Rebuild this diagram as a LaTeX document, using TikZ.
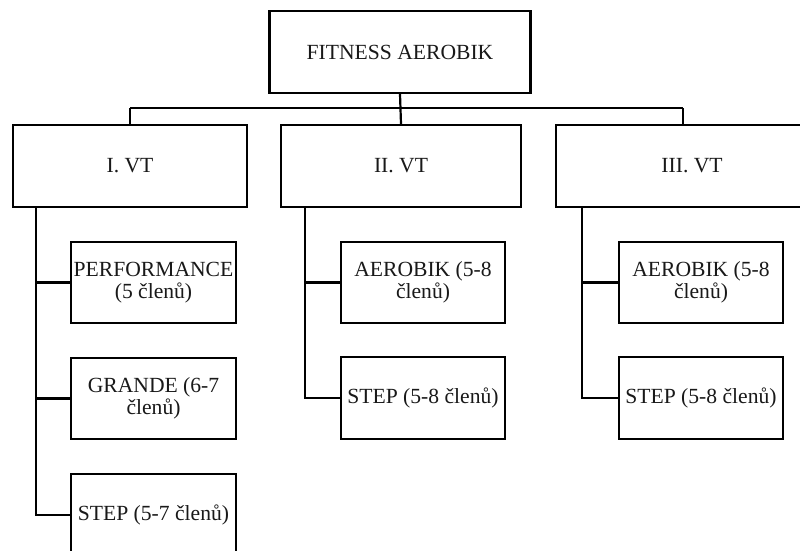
\documentclass[tikz,border=0pt]{standalone}
\usepackage{fontspec}
\setmainfont{Liberation Serif}
\begin{document}
\begin{tikzpicture}[x=1pt,y=-1pt,
  box/.style={draw, line width=2.2pt, rectangle, inner sep=0pt, align=center,
    font=\fontsize{21.6}{22}\selectfont, text=black!90},
  conn/.style={line width=2.2pt}]
\clip (0,0) rectangle (800,551);
\fill[white] (0,0) rectangle (800,551);
% nodes
\node[box, minimum width=261pt, minimum height=82pt] (top) at (400,52) {FITNESS AEROBIK};
\node[box, minimum width=234pt, minimum height=82pt] (v1) at (130,166) {I. VT};
\node[box, minimum width=240pt, minimum height=82pt] (v2) at (401,166) {II. VT};
\node[box, minimum width=272pt, minimum height=82pt] (v3) at (692,166) {III. VT};
\node[box, minimum width=165pt, minimum height=81pt] (p1) at (153.5,282.5) {PERFORMANCE\\(5 členů)};
\node[box, minimum width=165pt, minimum height=81pt] (g1) at (153.5,398.5) {GRANDE (6-7\\členů)};
\node[box, minimum width=165pt, minimum height=82pt] (s1) at (153.5,515) {STEP (5-7 členů)};
\node[box, minimum width=164pt, minimum height=81pt] (a2) at (423,282.5) {AEROBIK (5-8\\členů)};
\node[box, minimum width=164pt, minimum height=82pt] (s2) at (423,398) {STEP (5-8 členů)};
\node[box, minimum width=164pt, minimum height=81pt] (a3) at (701,282.5) {AEROBIK (5-8\\členů)};
\node[box, minimum width=164pt, minimum height=82pt] (s3) at (701,398) {STEP (5-8 členů)};
% bus
\coordinate (b1) at (130,108);
\coordinate (b3) at (683,108);
\draw[conn] (b1) -- (b3);
\draw[conn] (top.south) -- (v2.north);
\draw[conn] (b1) -- (v1.north);
\draw[conn] (b3) -- (b3 |- v3.north);
% rails
\coordinate (r1) at (36,207);
\coordinate (r2) at (305,207);
\coordinate (r3) at (582,207);
\draw[conn] (r1) |- (s1.west);
\draw[conn] (p1.west) -- (p1.west -| r1);
\draw[conn] (g1.west) -- (g1.west -| r1);
\draw[conn] (r2) |- (s2.west);
\draw[conn] (a2.west) -- (a2.west -| r2);
\draw[conn] (r3) |- (s3.west);
\draw[conn] (a3.west) -- (a3.west -| r3);
\end{tikzpicture}
\end{document}
